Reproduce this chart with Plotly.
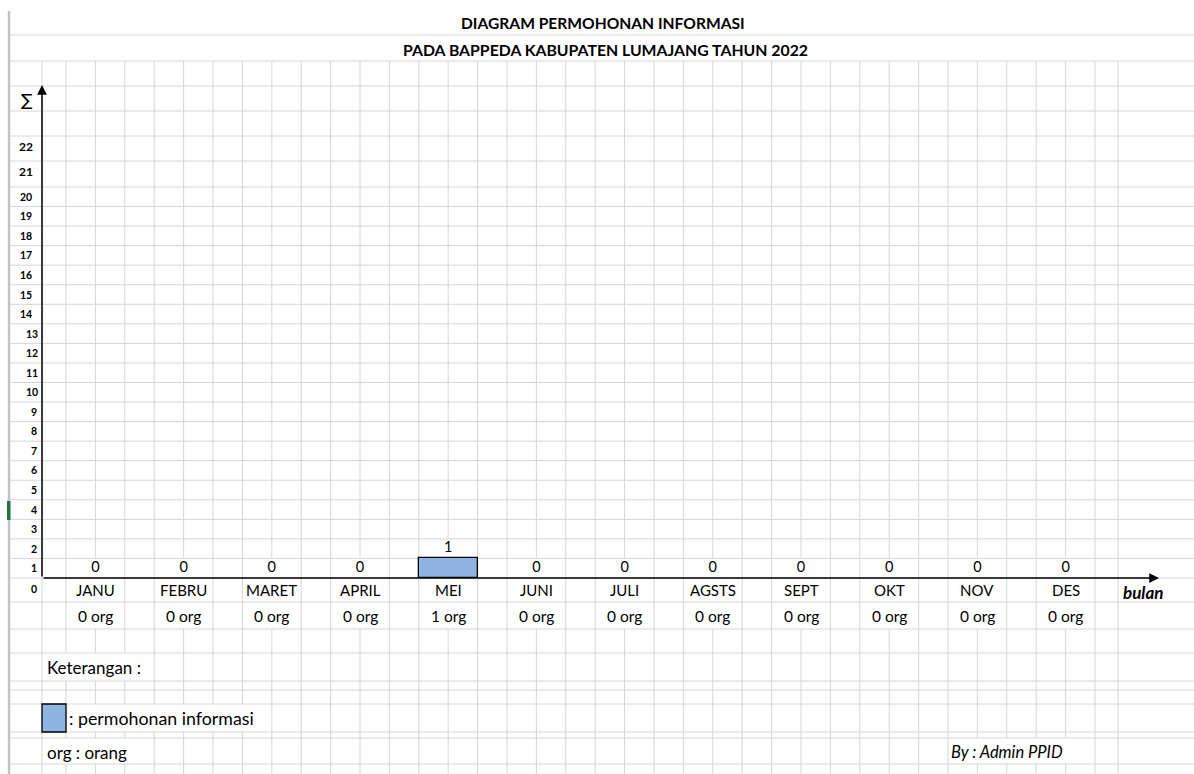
import plotly.graph_objects as go

# ---------------- data ----------------
months = ["JANU", "FEBRU", "MARET", "APRIL", "MEI", "JUNI", "JULI",
          "AGSTS", "SEPT", "OKT", "NOV", "DES"]
requests = [0, 0, 0, 0, 1, 0, 0, 0, 0, 0, 0, 0]
org_labels = ["0 org", "0 org", "0 org", "0 org", "1 org", "0 org", "0 org",
              "0 org", "0 org", "0 org", "0 org", "0 org"]
y_tick_labels = ["0", "1", "2", "3", "4", "5", "6", "7", "8", "9", "10", "11",
                 "12", "13", "14", "15", "16", "17", "18", "19", "20", "21", "22"]
title_lines = ["DIAGRAM PERMOHONAN INFORMASI",
               "PADA BAPPEDA KABUPATEN LUMAJANG TAHUN 2022"]
legend_text = ": permohonan informasi"
note_heading = "Keterangan :"
note_org = "org : orang"
author = "By : Admin PPID"
x_title = "bulan"
y_title = "\u2211"

# ---------------- sheet layout (pixels) ----------------
W, H = 1194, 774
FONT = "Lato"
BAR_COLOR = "#8EB4E3"
GRID = "#D6D6D6"

COL0, COLW, NK = 66.0, 29.4, 35
k_lines = [COL0 + COLW * k for k in range(NK + 1)]
col_lines = [42.0] + k_lines + [1118.0]

ROWH = 19.55
AXIS_Y = 578.0
row_lines = [35, 61, 86, 111, 136, 161, 187] + \
            [187 + ROWH * j for j in range(1, 21)] + \
            [602, 629, 653, 681, 690, 704, 732, 738, 764]
bounds = [61.0] + [float(r) for r in row_lines if r > 61] + [float(H)]
rows = list(zip(bounds[:-1], bounds[1:]))

def row_index(top):
    for i, (a, b) in enumerate(rows):
        if abs(a - top) < 0.6:
            return i
    return None

r_val1 = row_index(AXIS_Y - ROWH)
r_val2 = row_index(AXIS_Y - 2 * ROWH)
r_lab1 = row_index(578)
r_lab2 = row_index(602)
r_ket = row_index(653)
r_leg = row_index(704)
r_org = row_index(738)

mei = months.index("MEI")
month_inner = {3 * i + 1 for i in range(12)}
hidden = {
    r_val1: month_inner,
    r_val2: {3 * mei + 1},
    r_lab1: month_inner,
    r_lab2: month_inner,
    r_ket: {0, 1, 2},
    r_leg: {1, 2, 3, 4, 5, 6},
    r_org: {0, 1, 2, 31, 32, 33, 34},
}

gx, gy = [], []
# vertical grid lines, skipping merged / overflowed cells
for x in col_lines:
    k = k_lines.index(x) if x in k_lines else None
    run = None
    for ri, (a, b) in enumerate(rows):
        hide = k is not None and k in hidden.get(ri, set())
        if not hide:
            run = [a, b] if run is None else [run[0], b]
        else:
            if run:
                gx += [x, x, None]; gy += [run[0], run[1], None]
            run = None
    if run:
        gx += [x, x, None]; gy += [run[0], run[1], None]
# horizontal grid lines
for y in row_lines:
    gx += [9, W, None]; gy += [y, y, None]

fig = go.Figure()
fig.add_trace(go.Scatter(x=gx, y=gy, mode="lines", xaxis="x", yaxis="y",
                         line=dict(color=GRID, width=1), hoverinfo="skip",
                         showlegend=False))

# bars (data axes)
fig.add_trace(go.Bar(x=months, y=requests, xaxis="x2", yaxis="y2",
                     width=2 / 3,
                     marker=dict(color=BAR_COLOR,
                                 line=dict(color="black",
                                           width=[1.3 if v > 0 else 0 for v in requests])),
                     showlegend=False, hoverinfo="skip"))
fig.add_trace(go.Scatter(x=months, y=[v + 0.5 for v in requests],
                         text=[str(v) for v in requests], mode="text",
                         xaxis="x2", yaxis="y2",
                         textfont=dict(family=FONT, size=14.5, color="black"),
                         showlegend=False, hoverinfo="skip", cliponaxis=False))

ann = []
# month names and org counts under the axis
for m, o in zip(months, org_labels):
    ann.append(dict(x=m, y=590, xref="x2", yref="y", text=m, showarrow=False,
                    font=dict(family=FONT, size=15, color="black")))
    ann.append(dict(x=m, y=616, xref="x2", yref="y", text=o, showarrow=False,
                    font=dict(family=FONT, size=15.5, color="black")))

# y labels (spreadsheet cells)
for k, lab in enumerate(y_tick_labels):
    if k == 0:
        yc = 589
    elif k <= 20:
        yc = AXIS_Y - ROWH * (k - 0.5)
    elif k == 21:
        yc = 171
    else:
        yc = 146
    xc = 26 if k >= 14 else (31.5 if k >= 10 else 33.5)
    size = 12 if k >= 21 else 10.5
    ann.append(dict(x=xc, y=yc, xref="x", yref="y", text="<b>%s</b>" % lab,
                    showarrow=False,
                    font=dict(family=FONT, size=size, color="black")))

# titles
ann.append(dict(x=603, y=23, xref="x", yref="y", text="<b>%s</b>" % title_lines[0],
                showarrow=False, font=dict(family=FONT, size=15.6, color="black")))
ann.append(dict(x=605, y=49, xref="x", yref="y", text="<b>%s</b>" % title_lines[1],
                showarrow=False, font=dict(family=FONT, size=15.8, color="black")))
# axis titles
ann.append(dict(x=27, y=100, xref="x", yref="y", text=y_title, showarrow=False,
                font=dict(family="DejaVu Sans", size=17, color="black")))
ann.append(dict(x=1121, y=592, xref="x", yref="y", text="<b><i>%s</i></b>" % x_title,
                xanchor="left", showarrow=False,
                font=dict(family=FONT, size=17, color="black")))
# notes
ann.append(dict(x=45, y=667, xref="x", yref="y", text=note_heading, xanchor="left",
                showarrow=False, font=dict(family=FONT, size=17, color="black")))
ann.append(dict(x=67, y=718, xref="x", yref="y", text=legend_text, xanchor="left",
                showarrow=False, font=dict(family=FONT, size=17.8, color="black")))
ann.append(dict(x=45, y=752, xref="x", yref="y", text=note_org, xanchor="left",
                showarrow=False, font=dict(family=FONT, size=17, color="black")))
ann.append(dict(x=949, y=752, xref="x", yref="y", text="<i>%s</i>" % author,
                xanchor="left", showarrow=False,
                font=dict(family=FONT, size=16.5, color="black")))
# axis arrows
ann.append(dict(x=42, y=85, ax=42, ay=AXIS_Y, xref="x", yref="y", axref="x", ayref="y",
                text="", showarrow=True, arrowhead=2, arrowsize=1.3, arrowwidth=1.5,
                arrowcolor="black"))
ann.append(dict(x=1159, y=AXIS_Y, ax=42, ay=AXIS_Y, xref="x", yref="y", axref="x",
                ayref="y", text="", showarrow=True, arrowhead=2, arrowsize=1.3,
                arrowwidth=1.5, arrowcolor="black"))

shapes = [
    dict(type="line", x0=9, x1=9, y0=11, y1=H, xref="x", yref="y",
         line=dict(color="#C2C2C2", width=2.5)),
    dict(type="rect", x0=7, x1=10.5, y0=501, y1=520, xref="x", yref="y",
         fillcolor="#217346", line=dict(width=0)),
    dict(type="rect", x0=42, x1=66, y0=704, y1=732, xref="x", yref="y",
         fillcolor=BAR_COLOR, line=dict(color="black", width=1.3)),
]

x2_lo = (0 - (COL0 + COLW)) / (3 * COLW)
x2_hi = (W - (COL0 + COLW)) / (3 * COLW)
fig.update_layout(
    width=W, height=H, margin=dict(l=0, r=0, t=0, b=0),
    paper_bgcolor="white", plot_bgcolor="white",
    xaxis=dict(range=[0, W], visible=False, fixedrange=True, domain=[0, 1]),
    yaxis=dict(range=[H, 0], visible=False, fixedrange=True, domain=[0, 1]),
    xaxis2=dict(range=[x2_lo, x2_hi], overlaying="x", type="category",
                categoryorder="array", categoryarray=months,
                visible=False, fixedrange=True),
    yaxis2=dict(range=[(AXIS_Y - H) / ROWH, AXIS_Y / ROWH], overlaying="y",
                visible=False, fixedrange=True),
    annotations=ann, shapes=shapes, bargap=0,
)
fig.write_html("out.html", config={"displayModeBar": False},
               post_script="document.body.style.margin='0px';"
                           "document.body.style.overflow='hidden';")
